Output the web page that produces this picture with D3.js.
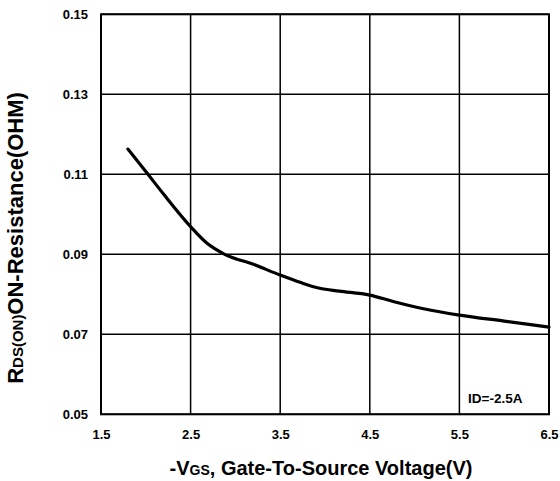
<!DOCTYPE html>
<html>
<head>
<meta charset="utf-8">
<script src="https://cdn.jsdelivr.net/npm/d3@7"></script>
<style>
  body { margin: 0; background: #fff; }
  svg { display: block; font-family: "Liberation Sans", Arial, sans-serif; font-weight: bold; }
</style>
</head>
<body>
<div id="chart"></div>
<script>
// -VGS (V) vs RDS(ON) (ohm), ID = -2.5A
const vgs = [1.8, 2.0, 2.2, 2.5, 2.68, 2.88, 3.2, 3.5, 3.72, 3.94, 4.16, 4.5, 4.76, 5.1, 5.5, 6.0, 6.5];
const rdson = [0.1163, 0.1107, 0.1050, 0.0969, 0.0928, 0.0900, 0.0875, 0.0848, 0.0830, 0.0815, 0.0808, 0.0798, 0.0782, 0.0764, 0.0748, 0.0733, 0.0718];
const xTicks = [1.5, 2.5, 3.5, 4.5, 5.5, 6.5];
const yTicks = [0.05, 0.07, 0.09, 0.11, 0.13, 0.15];

const W = 560, H = 481;
const margin = { top: 14.3, right: 11, bottom: 66.7, left: 101 };
const w = W - margin.left - margin.right;
const h = H - margin.top - margin.bottom;

const svg = d3.select('#chart').append('svg')
    .attr('width', W)
    .attr('height', H);

const g = svg.append('g')
    .attr('transform', `translate(${margin.left},${margin.top})`);

const x = d3.scaleLinear().domain([1.5, 6.5]).range([0, w]);
const y = d3.scaleLinear().domain([0.05, 0.15]).range([h, 0]);

// grid
g.append('g')
    .selectAll('line')
    .data(xTicks)
    .enter()
    .append('line')
    .attr('x1', d => x(d)).attr('x2', d => x(d))
    .attr('y1', 0).attr('y2', h)
    .attr('stroke', '#000')
    .attr('stroke-width', 1.5);

g.append('g')
    .selectAll('line')
    .data(yTicks)
    .enter()
    .append('line')
    .attr('x1', 0).attr('x2', w)
    .attr('y1', d => y(d)).attr('y2', d => y(d))
    .attr('stroke', '#000')
    .attr('stroke-width', 1.5);

g.append('rect')
    .attr('width', w)
    .attr('height', h)
    .attr('fill', 'none')
    .attr('stroke', '#000')
    .attr('stroke-width', 2);

// axes (labels only)
const xAxis = g.append('g')
    .attr('transform', `translate(0,${h})`)
    .call(d3.axisBottom(x).tickValues(xTicks).tickFormat(d3.format('.1f')).tickSize(0).tickPadding(15));
const yAxis = g.append('g')
    .call(d3.axisLeft(y).tickValues(yTicks).tickFormat(d3.format('.2f')).tickSize(0).tickPadding(13));
[xAxis, yAxis].forEach(a => {
    a.select('.domain').remove();
    a.selectAll('text')
        .attr('font-family', '"Liberation Sans", Arial, sans-serif')
        .attr('font-weight', 'bold')
        .attr('font-size', 13)
        .attr('fill', '#000');
});

// curve
const line = d3.line()
    .x((d, i) => x(vgs[i]))
    .y(d => y(d))
    .curve(d3.curveMonotoneX);

g.append('path')
    .datum(rdson)
    .attr('d', line)
    .attr('fill', 'none')
    .attr('stroke', '#000')
    .attr('stroke-width', 3.2)
    .attr('stroke-linecap', 'round');

// note
g.append('text')
    .attr('x', x(5.9))
    .attr('y', y(0.0527))
    .attr('text-anchor', 'middle')
    .attr('font-size', 13.5)
    .text('ID=-2.5A');

// axis titles
const xt = svg.append('text')
    .attr('x', 321)
    .attr('y', 475)
    .attr('text-anchor', 'middle')
    .attr('font-size', 20);
xt.append('tspan').text('-V');
xt.append('tspan').attr('font-size', 14).text('GS');
xt.append('tspan').text(', Gate-To-Source Voltage(V)');

const yt = svg.append('text')
    .attr('transform', `translate(23,238) rotate(-90)`)
    .attr('text-anchor', 'middle')
    .attr('font-size', 22);
yt.append('tspan').text('R');
yt.append('tspan').attr('font-size', 15).text('DS(ON)');
yt.append('tspan').text('ON-Resistance(OHM)');
</script>
</body>
</html>
